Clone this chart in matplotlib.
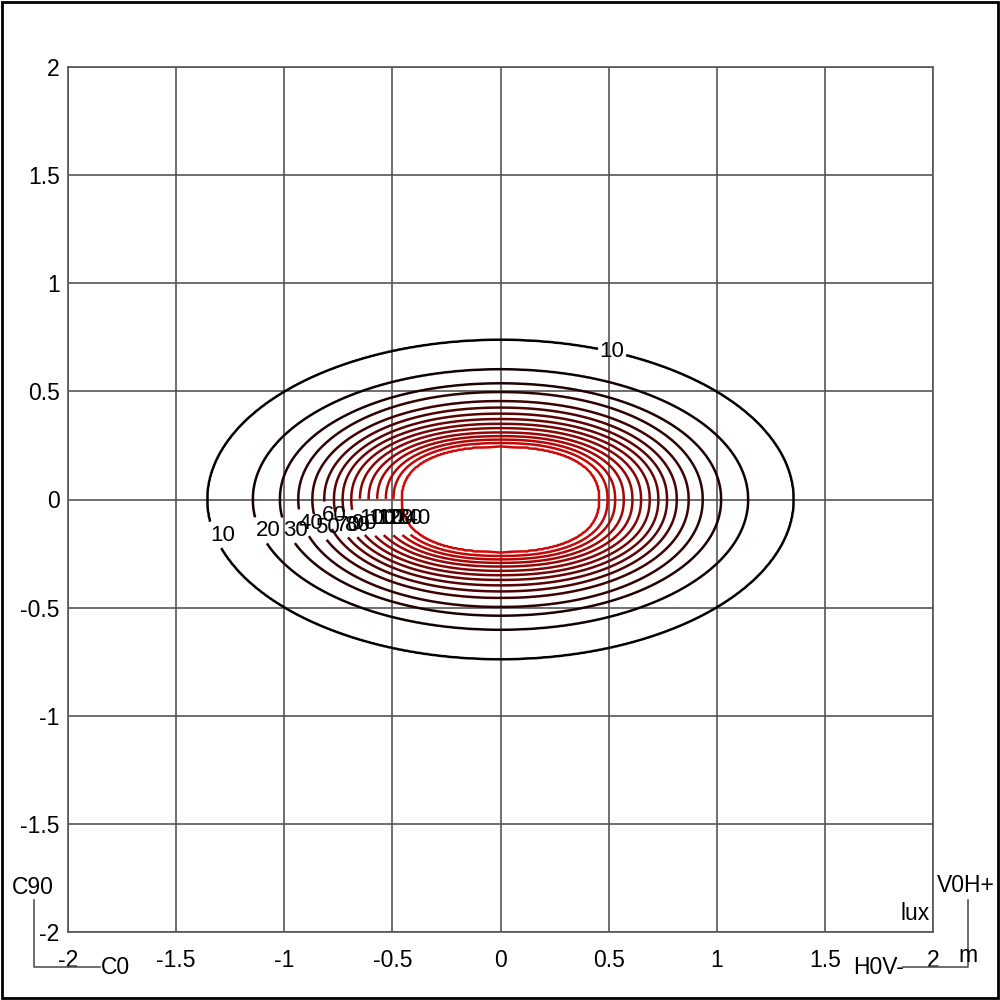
import numpy as np
import matplotlib.pyplot as plt
import matplotlib.patches as patches
from matplotlib.lines import Line2D

plt.rcParams['font.family'] = ['Liberation Sans', 'DejaVu Sans']

# iso-lux levels and the half-widths of each contour
levels = [10, 20, 30, 40, 50, 60, 70, 80, 90, 100, 110, 120, 130, 140, 150]
semi_x = [1.355, 1.145, 1.02, 0.935, 0.87, 0.815, 0.77, 0.73, 0.69, 0.65, 0.61, 0.57, 0.53, 0.495, 0.458]
semi_y = [0.738, 0.602, 0.537, 0.497, 0.455, 0.425, 0.397, 0.372, 0.35, 0.33, 0.31, 0.293, 0.277, 0.261, 0.245]
shape_p = [2.0, 2.02, 2.05, 2.08, 2.1, 2.12, 2.15, 2.18, 2.2, 2.22, 2.25, 2.28, 2.3, 2.33, 2.36]

# labelled levels and the height at which their label sits
label_levels = [10, 20, 30, 40, 50, 60, 70, 80, 90, 100, 110, 120, 130, 140]
label_y = [-0.165, -0.145, -0.145, -0.11, -0.13, -0.075, -0.12, -0.12, -0.11, -0.09, -0.09, -0.09, -0.09, -0.09]

ticks = [-2, -1.5, -1, -0.5, 0, 0.5, 1, 1.5, 2]
tick_labels = ['-2', '-1.5', '-1', '-0.5', '0', '0.5', '1', '1.5', '2']


def build_field(xx, yy):
    """Turn the nested contour shapes into a continuous lux field"""
    L = np.array(levels, dtype=float)
    d = np.stack([((np.abs(xx) / a) ** p + (np.abs(yy) / b) ** p) ** (1.0 / p)
                  for a, b, p in zip(semi_x, semi_y, shape_p)])
    d = d + 1e-9
    K = len(L)
    n = (d <= 1).sum(axis=0)
    j = np.clip(n - 1, 0, K - 2)
    dj = np.take_along_axis(d, j[None], 0)[0]
    dj1 = np.take_along_axis(d, (j + 1)[None], 0)[0]
    step = np.maximum(dj1 - dj, 1e-9)
    val = L[j] + (1 - dj) / step * (L[j + 1] - L[j])
    val = np.where(n == 0, L[0] / d[0] ** 2, val)
    val = np.where(n == K, L[-1] + 10 * (1 - d[-1]), val)
    return val


x = np.linspace(-2, 2, 801)
y = np.linspace(-2, 2, 801)
X, Y = np.meshgrid(x, y)
Z = build_field(X, Y)

fig = plt.figure(figsize=(10, 10), dpi=100)
ax = fig.add_axes([0.068, 0.068, 0.865, 0.865])

n_lv = len(levels)
colors = [(0.82 * i / (n_lv - 1), 0.03 * i / (n_lv - 1), 0.03 * i / (n_lv - 1)) for i in range(n_lv)]
cs = ax.contour(X, Y, Z, levels=levels, colors=colors, linewidths=1.8, zorder=3)

# labels along the lower left side, plus one extra "10" on the top right
positions = []
for lv, a, b, p in zip(levels, semi_x, semi_y, shape_p):
    if lv not in label_levels:
        continue
    yl = label_y[label_levels.index(lv)]
    xl = -a * (1 - (abs(yl) / b) ** p) ** (1.0 / p)
    positions.append((xl, yl))
    if lv == 10:
        positions.append((0.52, 0.70))
ax.clabel(cs, levels=levels, manual=positions, inline=True, fontsize=16,
          colors='black', fmt='%d', inline_spacing=2)
for t in cs.labelTexts:
    t.set_rotation(0)
    tx, ty = t.get_position()
    if tx < 0:
        # the left-side labels start at their line and run to the right
        t.set_position((tx - 0.02, ty))
        t.set_horizontalalignment('left')

ax.set_xlim(-2, 2)
ax.set_ylim(-2, 2)
ax.set_xticks(ticks)
ax.set_yticks(ticks)
ax.set_xticklabels(tick_labels)
ax.set_yticklabels(tick_labels)
ax.tick_params(axis='x', length=0, labelsize=16.5, pad=12)
ax.tick_params(axis='y', length=0, labelsize=16.5, pad=6)
ax.grid(True, color='#555555', linewidth=1.2)
for s in ax.spines.values():
    s.set_color('#555555')
    s.set_linewidth(1.2)

ax.text(0.996, 0.008, 'lux', transform=ax.transAxes, ha='right', va='bottom', fontsize=16.5)

# orientation marks in the corners
fig.add_artist(Line2D([0.034, 0.034, 0.100], [0.100, 0.033, 0.033], color='#555555', lw=1.2))
fig.add_artist(Line2D([0.968, 0.968, 0.903], [0.100, 0.033, 0.033], color='#555555', lw=1.2))
fig.text(0.033, 0.112, 'C90', ha='center', va='center', fontsize=16.5)
fig.text(0.101, 0.032, 'C0', ha='left', va='center', fontsize=16.5)
fig.text(0.966, 0.114, 'V0H+', ha='center', va='center', fontsize=16.5)
fig.text(0.904, 0.032, 'H0V-', ha='right', va='center', fontsize=16.5)
fig.text(0.968, 0.045, 'm', ha='center', va='center', fontsize=16.5)

fig.add_artist(patches.Rectangle((0.002, 0.002), 0.996, 0.996, transform=fig.transFigure,
                                 fill=False, edgecolor='black', linewidth=2))

fig.savefig('out.png', dpi=100)
